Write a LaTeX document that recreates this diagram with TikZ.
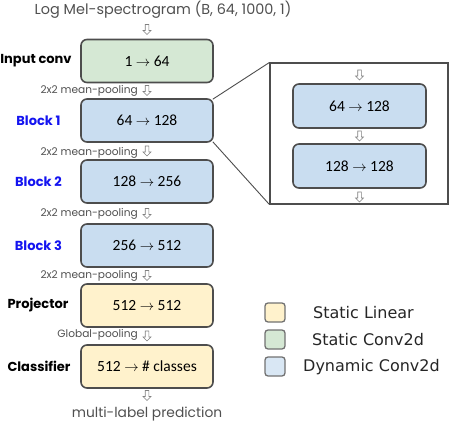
\documentclass[tikz,border=0pt]{standalone}
\usepackage{fontspec}
\setmainfont{Poppins}
\newfontfamily\boxfont{Carlito}
\newfontfamily\legfont{DejaVu Sans}
\definecolor{cgreen}{HTML}{D5E8D4}
\definecolor{cblue}{HTML}{C9DDF0}
\definecolor{cyellow}{HTML}{FFF2CC}
\definecolor{cborder}{HTML}{4D4D4D}
\definecolor{ctext}{HTML}{505050}
\definecolor{cblk}{HTML}{1414F0}
\begin{document}
\begin{tikzpicture}[x=1pt,y=-1pt,
  blk/.style={draw=cborder, line width=1.6pt, rounded corners=6pt, minimum width=132pt, minimum height=43pt, font=\boxfont\fontsize{15.5}{17}\selectfont, inner sep=0pt},
  side/.style={font=\bfseries\fontsize{13}{15}\selectfont},
  pool/.style={font=\fontsize{10.6}{12}\selectfont, text=ctext, anchor=east, inner sep=0pt},
  legbox/.style={draw=cborder!80, line width=1.3pt, rounded corners=3pt, minimum width=20pt, minimum height=19pt, inner sep=0pt},
  legtext/.style={font=\legfont\fontsize{16}{18}\selectfont, text=black!85, anchor=west, inner sep=0pt},
  darrow/.pic={\draw[gray, fill=white, line width=0.6pt] (-1.8,-5) -- (1.8,-5) -- (1.8,1) -- (4,1) -- (0,5) -- (-4,1) -- (-1.8,1) -- cycle;}
]
\useasboundingbox (0,0) rectangle (450,422);
% title
\node[font=\fontsize{14.4}{16}\selectfont, text=ctext] (title) at (163,10) {Log Mel-spectrogram (B, 64, 1000, 1)};
% main boxes
\node[blk, fill=cgreen] (in) at (147,61) {1 \(\rightarrow\) 64};
\node[blk, fill=cblue] (b1) at (147,120.5) {64 \(\rightarrow\) 128};
\node[blk, fill=cblue] (b2) at (147,181.5) {128 \(\rightarrow\) 256};
\node[blk, fill=cblue] (b3) at (147,245.5) {256 \(\rightarrow\) 512};
\node[blk, fill=cyellow] (pr) at (147,305.5) {512 \(\rightarrow\) 512};
\node[blk, fill=cyellow] (cl) at (147,366.5) {512 \(\rightarrow\) \# classes};
% side labels
\node[side] (lin) at (36,61) {Input conv};
\node[side, text=cblk] (lb1) at (38.5,120.5) {Block 1};
\node[side, text=cblk] (lb2) at (38.5,181.5) {Block 2};
\node[side, text=cblk] (lb3) at (38.5,245.5) {Block 3};
\node[side] (lpr) at (38,305.5) {Projector};
\node[side] (lcl) at (39,366.5) {Classifier};
% arrows
\pic at (147,29.5) {darrow};
\pic at (147,90.5) {darrow};
\pic at (147,151) {darrow};
\pic at (147,213.5) {darrow};
\pic at (147,275.5) {darrow};
\pic at (147,336) {darrow};
\pic at (147,395.5) {darrow};
% pooling labels
\node[pool] (p1) at (138,91) {2x2 mean-pooling};
\node[pool] (p2) at (138,152.5) {2x2 mean-pooling};
\node[pool] (p3) at (138,213.5) {2x2 mean-pooling};
\node[pool] (p4) at (138,276) {2x2 mean-pooling};
\node[pool] (p5) at (138,335) {Global-pooling};
\node[font=\fontsize{13.8}{15}\selectfont, text=ctext] (out) at (147,414) {multi-label prediction};
% zoom box
\node[draw=cborder, line width=1.1pt, minimum width=178pt, minimum height=141pt, inner sep=0pt] (zm) at (359,133.5) {};
\node[blk, fill=cblue, minimum width=133pt, minimum height=44pt] (z1) at (359.5,106) {64 \(\rightarrow\) 128};
\node[blk, fill=cblue, minimum width=133pt, minimum height=44pt] (z2) at (359.5,166) {128 \(\rightarrow\) 128};
\pic at (359.5,75) {darrow};
\pic at (359.5,136) {darrow};
\pic at (359.5,197) {darrow};
\draw[cborder, line width=0.9pt] ([xshift=-1pt,yshift=-1pt]b1.north east) -- (zm.north west);
\draw[cborder, line width=0.9pt] ([xshift=-1pt,yshift=1pt]b1.south east) -- (zm.south west);
% legend
\node[legbox, fill=cyellow] (ly) at (275,312.5) {};
\node[legbox, fill=cgreen] (lg) at (275,339.5) {};
\node[legbox, fill=cblue!70] (lbl) at (275,366.5) {};
\node[legtext] (ty) at (313,313) {Static Linear};
\node[legtext] (tg) at (312,340) {Static Conv2d};
\node[legtext] (tb) at (303,367) {Dynamic Conv2d};
\end{tikzpicture}
\end{document}
